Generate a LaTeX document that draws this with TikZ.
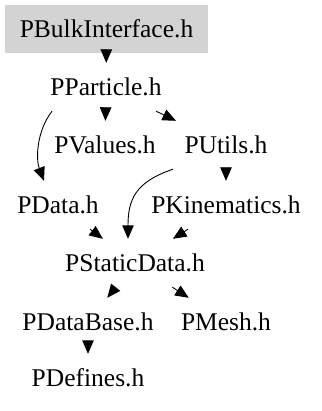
\documentclass[tikz,border=0pt]{standalone}
\usepackage{fontspec}
\setmainfont{Liberation Serif}
\usetikzlibrary{arrows.meta}
\definecolor{rootgray}{HTML}{D3D3D3}
\begin{document}
\begin{tikzpicture}[x=1pt,y=-1pt,
  file/.style={minimum height=48pt, inner xsep=11pt, inner ysep=0pt,
    font=\fontsize{25.5}{30}\selectfont},
  root/.style={file, fill=rootgray, minimum width=203pt},
  dep/.style={draw=black, line width=0.9pt,
    -{Triangle[length=13.5pt,width=11.5pt]}}]
\useasboundingbox (0,0) rectangle (321,411);

% header files of the include graph
\node[root] (pbi) at (106.5,29) {PBulkInterface.h};
\node[file] (pp)  at (106,87)  {PParticle.h};
\node[file] (pv)  at (105,145) {PValues.h};
\node[file] (pu)  at (226,145) {PUtils.h};
\node[file] (pd)  at (58,205)  {PData.h};
\node[file] (pk)  at (226,205) {PKinematics.h};
\node[file] (psd) at (135,263) {PStaticData.h};
\node[file] (pdb) at (88,322)  {PDataBase.h};
\node[file] (pm)  at (226,322) {PMesh.h};
\node[file] (pdf) at (88,378)  {PDefines.h};

% include relations
\draw[dep] (pbi) -- (pp);
\draw[dep] (pp) -- (pv);
\draw[dep] (pp) -- (pu);
\draw[dep] ([xshift=-54pt]pp.south) .. controls (36,132) and (36,160) .. ([xshift=-14pt]pd.north);
\draw[dep] ([xshift=-53pt]pu.south) .. controls (135,182) and (128,200) .. ([xshift=-7pt]psd.north);
\draw[dep] (pu) -- (pk);
\draw[dep] (pd) -- (psd);
\draw[dep] (pk) -- (psd);
\draw[dep] (psd) -- (pdb);
\draw[dep] (psd) -- (pm);
\draw[dep] (pdb) -- (pdf);
\end{tikzpicture}
\end{document}
